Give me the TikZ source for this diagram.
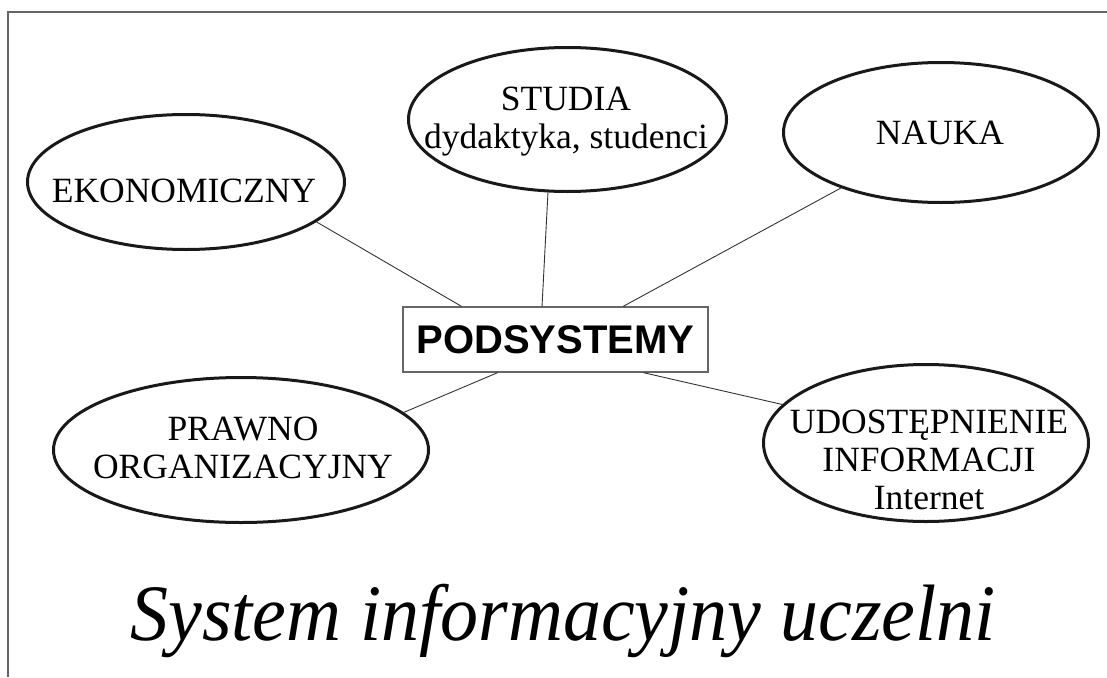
\documentclass[tikz,border=0pt]{standalone}
\usepackage{fontspec}
\usepackage{graphicx}
\setmainfont{Liberation Serif}
\newfontfamily\sansfont{Liberation Sans}
\usetikzlibrary{shapes.geometric,calc}

\tikzset{
  subsys/.style={ellipse, draw=black!90, line width=3pt, inner sep=0pt},
  lbl/.style={anchor=base, inner sep=0pt, font=\fontsize{35.5}{38}\selectfont},
  hub/.style={rectangle, draw=black!60, line width=1.3pt, inner sep=0pt,
    minimum width=305pt, minimum height=65pt, font=\sansfont\bfseries\fontsize{40}{44}\selectfont},
  link/.style={draw=black!80, line width=0.9pt},
  frame/.style={draw=black!60, line width=1.3pt},
}

\newcommand{\lines}[1]{\begin{tabular}[t]{@{}c@{}}#1\end{tabular}}

\begin{document}
\begin{tikzpicture}[x=1pt,y=-1pt]
  \useasboundingbox (0,0) rectangle (1107,677);

  % page frame (top and left edges)
  \draw[frame] (8,677) -- (8,12) -- (1107,12);

  % central box
  \node[hub] (hub) at (555.5,339.5) {PODSYSTEMY};

  % subsystem ellipses
  \node[subsys, minimum width=317pt, minimum height=135pt] (eko) at (186,182) {};
  \node[subsys, minimum width=318pt, minimum height=144pt] (stud) at (567.5,119.5) {};
  \node[subsys, minimum width=315pt, minimum height=140pt] (nauka) at (941,132.5) {};
  \node[subsys, minimum width=375pt, minimum height=145pt] (prawno) at (241,450) {};
  \node[subsys, minimum width=325pt, minimum height=157pt] (udo) at (926,443) {};

  % labels
  \node[lbl] (eko-t) at (184,202) {EKONOMICZNY};
  \node[lbl] (stud-t) at (566,110) {\lines{STUDIA\\dydaktyka, studenci}};
  \node[lbl] (nauka-t) at (940,144) {NAUKA};
  \node[lbl] (prawno-t) at (243,440) {\lines{PRAWNO\\ORGANIZACYJNY}};
  \node[lbl] (udo-t) at (929,433) {\lines{UDOSTĘPNIENIE\\INFORMACJI\\Internet}};

  % connectors
  \draw[link] (eko.-17.4) -- ($(hub.north west)!0.193!(hub.north east)$);
  \draw[link] (stud.-105.1) -- ($(hub.north west)!0.456!(hub.north east)$);
  \draw[link] (nauka.-151.3) -- ($(hub.north west)!0.721!(hub.north east)$);
  \draw[link] (prawno.13.9) -- ($(hub.south west)!0.311!(hub.south east)$);
  \draw[link] (udo.165.6) -- ($(hub.south west)!0.787!(hub.south east)$);

  % title, set slightly condensed
  \node[anchor=base, inner sep=0pt, font=\itshape\fontsize{80}{82}\selectfont] (title)
    at (563,640) {\scalebox{0.95}[1]{System informacyjny uczelni}};
\end{tikzpicture}
\end{document}
